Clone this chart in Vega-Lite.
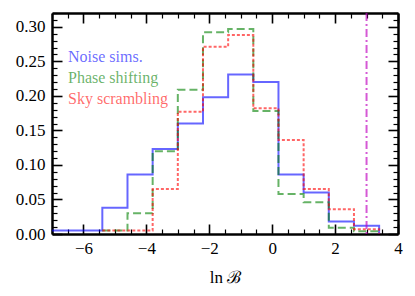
{
  "$schema": "https://vega.github.io/schema/vega-lite/v6.json",
  "width": 346,
  "height": 221,
  "autosize": {"type": "none"},
  "padding": {"left": 52, "top": 13, "right": 17, "bottom": 62},
  "background": "white",
  "config": {
    "view": {"stroke": null},
    "font": "Liberation Serif",
    "legend": {"labelFont": "Liberation Serif", "labelFontSize": 16},
    "axis": {
      "grid": false,
      "domain": true,
      "domainColor": "black",
      "domainWidth": 2.5,
      "tickColor": "black",
      "labelFont": "Liberation Serif",
      "labelFontSize": 17,
      "labelColor": "black",
      "titleFont": "Liberation Serif",
      "titleFontSize": 17,
      "titleFontWeight": "normal",
      "titleColor": "black",
      "labelOverlap": false,
      "labelFlush": false
    }
  },
  "datasets": {
    "hist": [
      {"series": "Noise sims.", "lnB": -7.0, "frac": 0.005},
      {"series": "Noise sims.", "lnB": -5.4, "frac": 0.038},
      {"series": "Noise sims.", "lnB": -4.6, "frac": 0.086},
      {"series": "Noise sims.", "lnB": -3.8, "frac": 0.123},
      {"series": "Noise sims.", "lnB": -3.0, "frac": 0.160},
      {"series": "Noise sims.", "lnB": -2.2, "frac": 0.198},
      {"series": "Noise sims.", "lnB": -1.4, "frac": 0.231},
      {"series": "Noise sims.", "lnB": -0.6, "frac": 0.220},
      {"series": "Noise sims.", "lnB": 0.2, "frac": 0.086},
      {"series": "Noise sims.", "lnB": 1.0, "frac": 0.060},
      {"series": "Noise sims.", "lnB": 1.8, "frac": 0.018},
      {"series": "Noise sims.", "lnB": 2.6, "frac": 0.012},
      {"series": "Noise sims.", "lnB": 3.4, "frac": 0.0},
      {"series": "Phase shifting", "lnB": -5.4, "frac": 0.005},
      {"series": "Phase shifting", "lnB": -4.6, "frac": 0.030},
      {"series": "Phase shifting", "lnB": -3.8, "frac": 0.120},
      {"series": "Phase shifting", "lnB": -3.0, "frac": 0.209},
      {"series": "Phase shifting", "lnB": -2.2, "frac": 0.292},
      {"series": "Phase shifting", "lnB": -1.4, "frac": 0.297},
      {"series": "Phase shifting", "lnB": -0.6, "frac": 0.178},
      {"series": "Phase shifting", "lnB": 0.2, "frac": 0.058},
      {"series": "Phase shifting", "lnB": 1.0, "frac": 0.046},
      {"series": "Phase shifting", "lnB": 1.8, "frac": 0.009},
      {"series": "Phase shifting", "lnB": 2.6, "frac": 0.004},
      {"series": "Phase shifting", "lnB": 3.4, "frac": 0.0},
      {"series": "Sky scrambling", "lnB": -5.4, "frac": 0.005},
      {"series": "Sky scrambling", "lnB": -4.6, "frac": 0.005},
      {"series": "Sky scrambling", "lnB": -3.8, "frac": 0.065},
      {"series": "Sky scrambling", "lnB": -3.0, "frac": 0.177},
      {"series": "Sky scrambling", "lnB": -2.2, "frac": 0.271},
      {"series": "Sky scrambling", "lnB": -1.4, "frac": 0.288},
      {"series": "Sky scrambling", "lnB": -0.6, "frac": 0.182},
      {"series": "Sky scrambling", "lnB": 0.2, "frac": 0.136},
      {"series": "Sky scrambling", "lnB": 1.0, "frac": 0.065},
      {"series": "Sky scrambling", "lnB": 1.8, "frac": 0.036},
      {"series": "Sky scrambling", "lnB": 2.6, "frac": 0.007},
      {"series": "Sky scrambling", "lnB": 3.4, "frac": 0.0}
    ],
    "marker": [{"lnB": 3.0}]
  },
  "layer": [
    {
      "data": {"name": "hist"},
      "mark": {"type": "line", "interpolate": "step-after", "strokeWidth": 2, "opacity": 0.6, "clip": true},
      "encoding": {
        "x": {
          "field": "lnB", "type": "quantitative",
          "scale": {"domain": [-7, 4], "nice": false, "zero": false},
          "axis": {
            "orient": "bottom",
            "title": "ln ℬ",
            "titlePadding": 8,
            "format": "~g",
            "values": [-7,-6.5,-6,-5.5,-5,-4.5,-4,-3.5,-3,-2.5,-2,-1.5,-1,-0.5,0,0.5,1,1.5,2,2.5,3,3.5,4],
            "tickSize": {"condition": {"test": "datum.value % 2 === 0", "value": -10}, "value": -5},
            "tickWidth": {"condition": {"test": "datum.value % 2 === 0", "value": 1.6}, "value": 1.2},
            "labelExpr": "datum.value % 2 === 0 ? datum.label : ''",
            "labelPadding": 16
          }
        },
        "y": {
          "field": "frac", "type": "quantitative",
          "scale": {"domain": [0, 0.32], "nice": false},
          "axis": {
            "orient": "left",
            "title": null,
            "format": ".2f",
            "values": [0,0.01,0.02,0.03,0.04,0.05,0.06,0.07,0.08,0.09,0.1,0.11,0.12,0.13,0.14,0.15,0.16,0.17,0.18,0.19,0.2,0.21,0.22,0.23,0.24,0.25,0.26,0.27,0.28,0.29,0.3,0.31,0.32],
            "tickSize": {"condition": {"test": "abs(round(datum.value*100)) % 5 === 0", "value": -10}, "value": -5},
            "tickWidth": {"condition": {"test": "abs(round(datum.value*100)) % 5 === 0", "value": 1.6}, "value": 1.2},
            "labelExpr": "abs(round(datum.value*100)) % 5 === 0 ? datum.label : ''",
            "labelPadding": 17
          }
        },
        "color": {
          "field": "series", "type": "nominal",
          "scale": {"domain": ["Noise sims.", "Phase shifting", "Sky scrambling"], "range": ["#0000ff", "#008000", "#ff0000"]},
          "legend": {
            "orient": "none",
            "legendX": 0,
            "legendY": 36,
            "title": null,
            "symbolOpacity": 0,
            "symbolSize": 0,
            "symbolStrokeWidth": 0,
            "labelOffset": 0,
            "labelFont": "Liberation Serif",
            "labelFontSize": 16,
            "rowPadding": 5,
            "padding": 0,
            "encode": {"labels": {"update": {"fill": {"scale": "color", "field": "value"}, "fillOpacity": {"value": 0.6}, "font": {"value": "Liberation Serif"}}}}
          }
        },
        "strokeDash": {
          "field": "series", "type": "nominal",
          "scale": {"domain": ["Noise sims.", "Phase shifting", "Sky scrambling"], "range": [[1, 0], [8, 4], [3, 2]]},
          "legend": null
        }
      }
    },
    {
      "data": {"name": "hist"},
      "mark": {"type": "point", "opacity": 0},
      "encoding": {
        "x": {
          "field": "lnB", "type": "quantitative",
          "axis": {
            "orient": "top",
            "title": null,
            "labels": false,
            "values": [-7,-6.5,-6,-5.5,-5,-4.5,-4,-3.5,-3,-2.5,-2,-1.5,-1,-0.5,0,0.5,1,1.5,2,2.5,3,3.5,4],
            "tickSize": {"condition": {"test": "datum.value % 2 === 0", "value": -10}, "value": -5},
            "tickWidth": {"condition": {"test": "datum.value % 2 === 0", "value": 1.6}, "value": 1.2}
          }
        },
        "y": {
          "field": "frac", "type": "quantitative",
          "axis": {
            "orient": "right",
            "title": null,
            "labels": false,
            "values": [0,0.01,0.02,0.03,0.04,0.05,0.06,0.07,0.08,0.09,0.1,0.11,0.12,0.13,0.14,0.15,0.16,0.17,0.18,0.19,0.2,0.21,0.22,0.23,0.24,0.25,0.26,0.27,0.28,0.29,0.3,0.31,0.32],
            "tickSize": {"condition": {"test": "abs(round(datum.value*100)) % 5 === 0", "value": -10}, "value": -5},
            "tickWidth": {"condition": {"test": "abs(round(datum.value*100)) % 5 === 0", "value": 1.6}, "value": 1.2}
          }
        }
      }
    },
    {
      "data": {"name": "marker"},
      "mark": {"type": "rule", "color": "#bf00bf", "opacity": 0.65, "strokeWidth": 2, "strokeDash": [8, 3, 2, 3]},
      "encoding": {
        "x": {"field": "lnB", "type": "quantitative", "axis": null}
      }
    }
  ],
  "resolve": {"axis": {"x": "independent", "y": "independent"}}
}
